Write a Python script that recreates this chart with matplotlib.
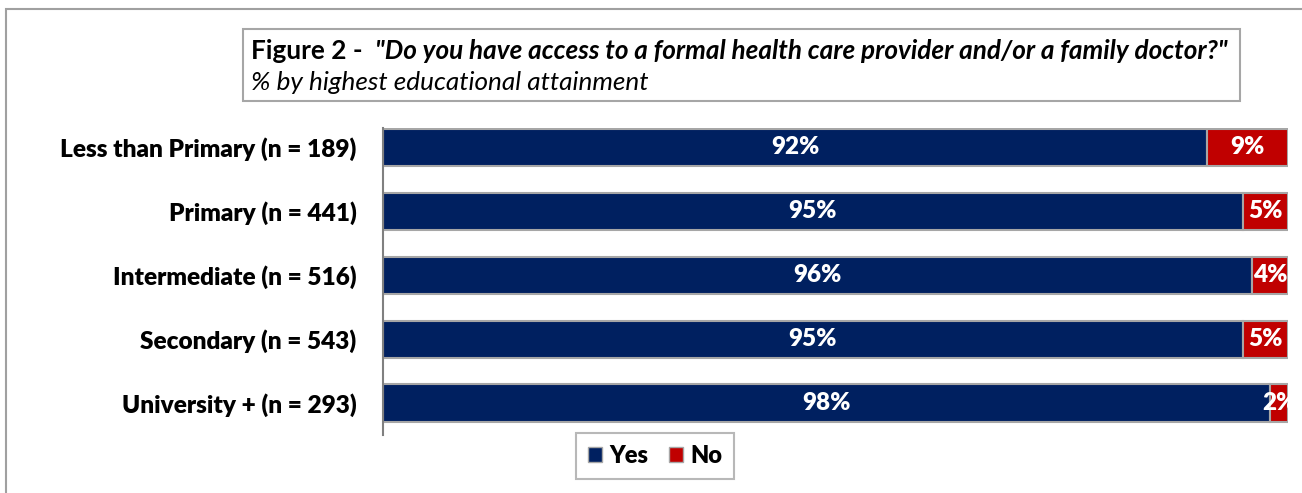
import matplotlib
matplotlib.use("Agg")
import matplotlib.pyplot as plt
from matplotlib.patches import Rectangle, Patch

plt.rcParams['font.family'] = ['Lato', 'DejaVu Sans']

categories = ["Less than Primary (n = 189)", "Primary (n = 441)", "Intermediate (n = 516)",
              "Secondary (n = 543)", "University + (n = 293)"]
yes_vals = [92, 95, 96, 95, 98]
no_vals = [9, 5, 4, 5, 2]
series_names = ["Yes", "No"]

NAVY = "#002060"
RED = "#C00000"
EDGE = "#A6A6A6"

W, H = 1302, 493
fig = plt.figure(figsize=(W / 100, H / 100), dpi=100)

def fx(px):
    return px / W

def fy(py):
    return 1 - py / H

# outer border
fig.patches.append(Rectangle((fx(6), fy(600)), fx(1400), fy(9) - fy(600), transform=fig.transFigure,
                             fill=False, edgecolor="#A0A0A0", linewidth=1.5, zorder=0))

ax = fig.add_axes([fx(383), fy(435), fx(1288) - fx(383), fy(128) - fy(435)])

ypos = list(range(len(categories)))
totals = [a + b for a, b in zip(yes_vals, no_vals)]
yes_pct = [a / t * 100 for a, t in zip(yes_vals, totals)]
no_pct = [b / t * 100 for b, t in zip(no_vals, totals)]

bh = 0.58
ax.barh(ypos, yes_pct, height=bh, color=NAVY, edgecolor=EDGE, linewidth=1.5, label=series_names[0])
ax.barh(ypos, no_pct, left=yes_pct, height=bh, color=RED, edgecolor=EDGE, linewidth=1.5, label=series_names[1])

LBL = 17.5
for i in ypos:
    ax.text(yes_pct[i] / 2, i, f"{yes_vals[i]}%", ha="center", va="center", color="white",
            fontsize=LBL, fontweight="heavy", clip_on=True)
    ax.text(yes_pct[i] + no_pct[i] / 2, i, f"{no_vals[i]}%", ha="center", va="center", color="white",
            fontsize=LBL, fontweight="heavy", clip_on=True)

ax.set_xlim(0, 100)
ax.set_ylim(4.5, -0.3)
ax.set_yticks(ypos)
ax.set_yticklabels(categories, fontsize=17.6, fontweight="heavy")
ax.tick_params(axis="y", length=0, pad=19)
ax.set_xticks([])
for s in ["top", "right", "bottom"]:
    ax.spines[s].set_visible(False)
ax.spines["left"].set_color("#808080")
ax.spines["left"].set_linewidth(1.5)

# title box
fig.patches.append(Rectangle((fx(243), fy(101)), fx(1240) - fx(243), fy(29) - fy(101),
                             transform=fig.transFigure, fill=True, facecolor="white",
                             edgecolor="#A6A6A6", linewidth=1.5, zorder=1))
TS = 18.8
t1 = fig.text(fx(251), fy(51), "Figure 2 -  ", fontsize=TS, fontweight="bold", ha="left", va="center")
renderer = fig.canvas.get_renderer()
bb = t1.get_window_extent(renderer)
fig.text(bb.x1 / W, fy(51),
         '"Do you have access to a formal health care provider and/or a family doctor?"',
         fontsize=TS, fontweight="bold", fontstyle="italic", ha="left", va="center")
fig.text(fx(251), fy(83), "% by highest educational attainment", fontsize=TS, fontstyle="italic",
         ha="left", va="center")

handles = [Patch(facecolor=NAVY, edgecolor=EDGE), Patch(facecolor=RED, edgecolor=EDGE)]
leg = fig.legend(handles, series_names, loc="center", bbox_to_anchor=(fx(655), fy(456)),
                 ncol=2, frameon=True, fancybox=False, edgecolor="#A6A6A6",
                 prop={"size": 17, "weight": "heavy"}, handlelength=0.6, handleheight=0.6,
                 handletextpad=0.3, columnspacing=0.9, borderpad=0.5)
leg.get_frame().set_linewidth(1.5)

fig.savefig("out.png", dpi=100, facecolor="white")
